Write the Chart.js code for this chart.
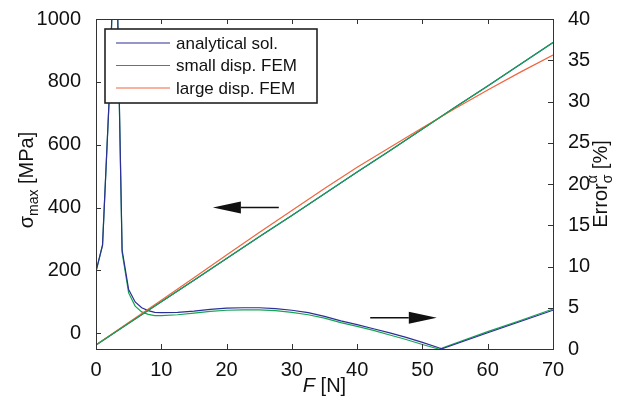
<!DOCTYPE html>
<html>
<head>
<meta charset="utf-8">
<script src="https://cdn.jsdelivr.net/npm/chart.js@4.4.1/dist/chart.umd.min.js"></script>
<style>
  html, body { margin: 0; padding: 0; background: #fff; }
  #wrap { width: 629px; height: 402px; }
</style>
</head>
<body>
<div id="wrap"><canvas id="chart" width="629" height="402"></canvas></div>
<script>
// stress curves, left axis [MPa]
const forceStress = [0, 5, 10, 15, 20, 25, 30, 35, 40, 45, 50, 55, 60, 65, 70];
const sigmaAnalytical = [-37, 32, 100, 169, 238, 307, 375, 444, 513, 581, 650, 719, 787, 856, 925];
const sigmaSmallDisp = [-37, 32, 100, 169, 238, 307, 375, 444, 513, 581, 650, 719, 787, 856, 925];
const sigmaLargeDisp = [-37, 34, 105, 177, 249, 321, 391, 461, 528, 591, 654, 715, 774, 831, 885];

// error curves, right axis [%]
const forceError = [0, 1, 2, 3, 4, 5, 6, 7, 8, 9, 10, 12.5, 15, 17.5, 20, 22.5, 25, 27.5, 30,
  32.5, 35, 37.5, 40, 42.5, 45, 47.5, 50, 52.5, 53, 60, 65, 70];
const errorAnalytical = [9.4, 12.6, 30, 54, 12, 7.2, 5.7, 5.0, 4.65, 4.45, 4.4, 4.45, 4.6, 4.8, 4.95,
  5.0, 5.0, 4.9, 4.7, 4.4, 3.95, 3.4, 2.95, 2.45, 1.95, 1.4, 0.8, 0.15, 0.03, 1.97, 3.34, 4.7];
const errorSmallDisp = [9.4, 12.6, 30, 54, 11.7, 6.8, 5.2, 4.5, 4.2, 4.05, 4.05, 4.15, 4.35, 4.55, 4.7,
  4.75, 4.75, 4.65, 4.45, 4.15, 3.75, 3.2, 2.75, 2.25, 1.7, 1.15, 0.55, 0.0, 0.12, 2.1, 3.45, 4.85];

const xTicks = [0, 10, 20, 30, 40, 50, 60, 70];
const yTicks = [0, 200, 400, 600, 800, 1000];
const y2Ticks = [0, 5, 10, 15, 20, 25, 30, 35, 40];

// arrows pointing to the axis each curve family belongs to: [F tail, F tip, value]
const arrowLeft = [28.0, 17.9, 400];
const arrowRight = [42.0, 52.2, 3.8];

const BLUE = '#2e2e98';
const GREEN = '#14a54f';
const RED = '#f0653e';
const FONT = '"Liberation Sans", Arial, Helvetica, sans-serif';

const pts = (xs, ys) => xs.map((x, i) => ({ x: x, y: ys[i] }));

function line(label, data, color, axis, order, legend) {
  return {
    label: label, data: data, yAxisID: axis, order: order,
    borderColor: color, backgroundColor: color, borderWidth: 1.2,
    pointRadius: 0, tension: 0, fill: false, inLegend: legend
  };
}

function drawArrow(ctx, x0, y0, x1, y1) {
  const dir = Math.sign(x1 - x0);
  const headLen = 28, half = 6;
  ctx.beginPath();
  ctx.moveTo(x0, y0);
  ctx.lineTo(x1 - dir * headLen, y1);
  ctx.stroke();
  ctx.beginPath();
  ctx.moveTo(x1, y1);
  ctx.lineTo(x1 - dir * headLen, y1 - half);
  ctx.lineTo(x1 - dir * headLen, y1 + half);
  ctx.closePath();
  ctx.fill();
}

const decorations = {
  id: 'decorations',
  afterDatasetsDraw(chart) {
    const { ctx, chartArea: a, scales } = chart;
    ctx.save();

    // arrows
    ctx.strokeStyle = '#111';
    ctx.fillStyle = '#111';
    ctx.lineWidth = 1.5;
    drawArrow(ctx, scales.x.getPixelForValue(arrowLeft[0]), scales.y.getPixelForValue(arrowLeft[2]),
      scales.x.getPixelForValue(arrowLeft[1]), scales.y.getPixelForValue(arrowLeft[2]));
    drawArrow(ctx, scales.x.getPixelForValue(arrowRight[0]), scales.y2.getPixelForValue(arrowRight[2]),
      scales.x.getPixelForValue(arrowRight[1]), scales.y2.getPixelForValue(arrowRight[2]));

    // box and inward ticks
    ctx.strokeStyle = '#333';
    ctx.lineWidth = 1;
    ctx.strokeRect(Math.round(a.left) + 0.5, Math.round(a.top) + 0.5,
      Math.round(a.right - a.left), Math.round(a.bottom - a.top));
    ctx.beginPath();
    xTicks.forEach(v => {
      const px = Math.round(scales.x.getPixelForValue(v)) + 0.5;
      ctx.moveTo(px, a.bottom); ctx.lineTo(px, a.bottom - 5);
      ctx.moveTo(px, a.top); ctx.lineTo(px, a.top + 5);
    });
    yTicks.forEach(v => {
      const py = Math.round(scales.y.getPixelForValue(v)) + 0.5;
      ctx.moveTo(a.left, py); ctx.lineTo(a.left + 5, py);
    });
    y2Ticks.forEach(v => {
      const py = Math.round(scales.y2.getPixelForValue(v)) + 0.5;
      ctx.moveTo(a.right, py); ctx.lineTo(a.right - 5, py);
    });
    ctx.stroke();

    // legend box
    const items = chart.data.datasets.filter(d => d.inLegend);
    const bx = a.left + 9, by = a.top + 10, bw = 212, bh = 74;
    ctx.fillStyle = '#fff';
    ctx.fillRect(bx, by, bw, bh);
    ctx.strokeStyle = '#222';
    ctx.lineWidth = 1.6;
    ctx.strokeRect(bx, by, bw, bh);
    ctx.font = '17px ' + FONT;
    ctx.textBaseline = 'middle';
    ctx.textAlign = 'left';
    items.forEach((d, i) => {
      const yy = by + 14 + i * 22.5;
      ctx.strokeStyle = d.borderColor;
      ctx.lineWidth = 1.2;
      ctx.beginPath();
      ctx.moveTo(bx + 11, yy); ctx.lineTo(bx + 65, yy);
      ctx.stroke();
      ctx.fillStyle = '#111';
      ctx.fillText(d.label, bx + 71, yy + 1);
    });
    ctx.restore();
  },
  afterDraw(chart) {
    const { ctx, chartArea: a } = chart;
    const big = '20px ' + FONT, small = '14px ' + FONT;
    const midY = (a.top + a.bottom) / 2;
    ctx.save();
    ctx.fillStyle = '#111';
    ctx.textBaseline = 'alphabetic';
    ctx.textAlign = 'left';

    // left title: sigma_max [MPa]
    ctx.save();
    ctx.translate(33, midY - 4);
    ctx.rotate(-Math.PI / 2);
    ctx.font = big; const w1 = ctx.measureText('σ').width;
    ctx.font = small; const w2 = ctx.measureText('max').width;
    ctx.font = big; const w3 = ctx.measureText(' [MPa]').width;
    let x = -(w1 + w2 + w3) / 2;
    ctx.font = big; ctx.fillText('σ', x, 0); x += w1;
    ctx.font = small; ctx.fillText('max', x, 5); x += w2;
    ctx.font = big; ctx.fillText(' [MPa]', x, 0);
    ctx.restore();

    // right title: Error_sigma^alpha [%]
    ctx.save();
    ctx.translate(607, midY);
    ctx.rotate(-Math.PI / 2);
    ctx.font = big; const e1 = ctx.measureText('Error').width;
    ctx.font = small; const e2 = Math.max(ctx.measureText('σ').width, ctx.measureText('α').width);
    ctx.font = big; const e3 = ctx.measureText(' [%]').width;
    x = -(e1 + e2 + e3) / 2;
    ctx.font = big; ctx.fillText('Error', x, 0); x += e1;
    ctx.font = small; ctx.fillText('σ', x, 5); ctx.fillText('α', x, -10); x += e2;
    ctx.font = big; ctx.fillText(' [%]', x, 0);
    ctx.restore();

    // bottom title: F [N]
    ctx.font = 'italic ' + big; const f1 = ctx.measureText('F').width;
    ctx.font = big; const f2 = ctx.measureText(' [N]').width;
    x = (a.left + a.right) / 2 - (f1 + f2) / 2;
    ctx.font = 'italic ' + big; ctx.fillText('F', x, 392);
    ctx.font = big; ctx.fillText(' [N]', x + f1, 392);
    ctx.restore();
  }
};

Chart.defaults.font.family = FONT;
Chart.defaults.font.size = 20;
Chart.defaults.color = '#111';

new Chart(document.getElementById('chart'), {
  type: 'line',
  data: {
    datasets: [
      line('analytical sol.', pts(forceStress, sigmaAnalytical), BLUE, 'y', 2, true),
      line('small disp. FEM', pts(forceStress, sigmaSmallDisp), GREEN, 'y', 0, true),
      line('large disp. FEM', pts(forceStress, sigmaLargeDisp), RED, 'y', 1, true),
      line('analytical sol.', pts(forceError, errorAnalytical), BLUE, 'y2', 3, false),
      line('small disp. FEM', pts(forceError, errorSmallDisp), GREEN, 'y2', 4, false)
    ]
  },
  options: {
    responsive: false,
    animation: false,
    layout: { padding: { top: 12, left: 0, right: 0, bottom: 0 } },
    plugins: { legend: { display: false }, tooltip: { enabled: false } },
    scales: {
      x: {
        type: 'linear', min: 0, max: 70,
        grid: { display: false }, border: { display: false },
        ticks: { padding: 1, maxRotation: 0, callback: v => String(v) },
        afterBuildTicks: s => { s.ticks = xTicks.map(v => ({ value: v })); },
        afterFit: s => { s.height = 53; }
      },
      y: {
        type: 'linear', position: 'left', min: -50, max: 1000,
        grid: { display: false }, border: { display: false },
        ticks: { padding: 7, callback: v => String(v) },
        afterBuildTicks: s => { s.ticks = yTicks.map(v => ({ value: v })); },
        afterFit: s => { s.width = 96; }
      },
      y2: {
        type: 'linear', position: 'right', min: 0, max: 40,
        grid: { display: false }, border: { display: false },
        ticks: { padding: 7, callback: v => String(v) },
        afterBuildTicks: s => { s.ticks = y2Ticks.map(v => ({ value: v })); },
        afterFit: s => { s.width = 76; }
      }
    }
  },
  plugins: [decorations]
});
</script>
</body>
</html>
